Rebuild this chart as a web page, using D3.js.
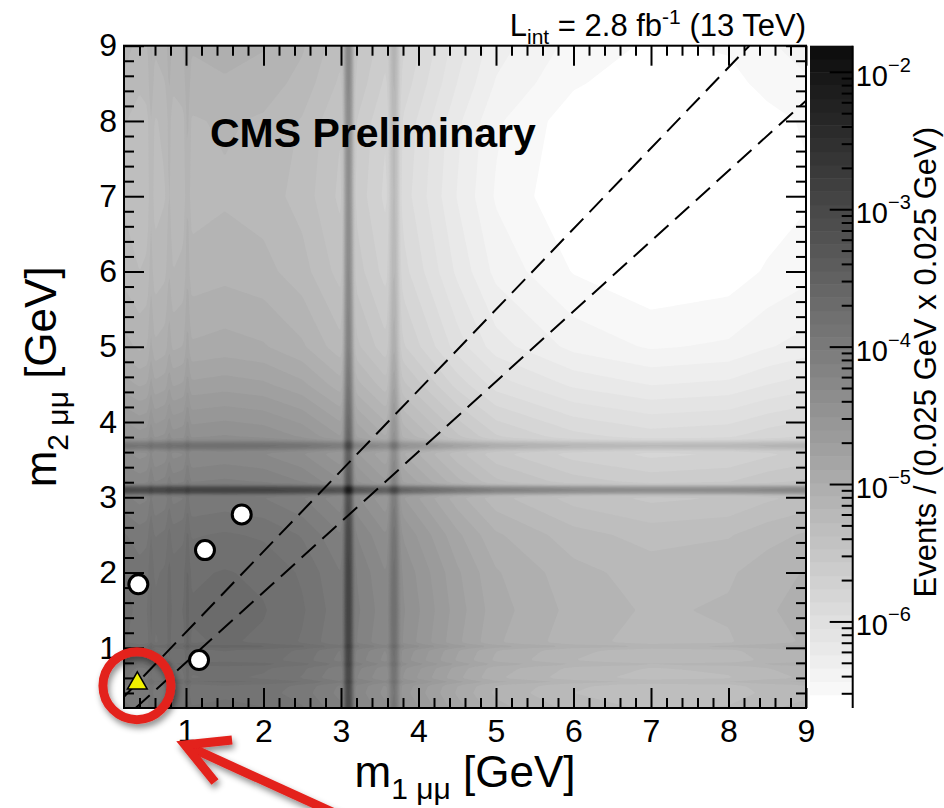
<!DOCTYPE html>
<html>
<head>
<meta charset="utf-8">
<script src="https://cdn.jsdelivr.net/npm/d3@7"></script>
<style>
  body { margin: 0; background: #fff; }
  svg { display: block; }
  text { font-family: "Liberation Sans", Arial, Helvetica, sans-serif; fill: #000; }
</style>
</head>
<body>
<div id="chart"></div>
<script>
// ---- data ----
// continuum shape of one dimuon mass (log10, relative), same for m1 and m2
var massKnots = [0.2, 0.4, 0.6, 0.8, 1.0, 1.5, 2.0, 2.5, 3.0, 3.5, 4.0, 4.5, 5.0, 6.0, 7.0, 8.0, 8.5, 9.0]
var logShape  = [-0.1, -0.16, -0.12, -0.07, -0.03, 0, -0.03, -0.12, -0.3, -0.55, -0.8, -1.05, -1.25, -1.42, -1.5, -1.47, -1.4, -1.35]
var logNorm = -3.7

// narrow resonances: eta, omega, phi, J/psi, psi(2S)
var resMass     = [0.548, 0.782, 1.019, 3.097, 3.686]
var resWidth    = [0.02, 0.02, 0.02, 0.028, 0.035]
var resStrength = [0.3, 0.25, 0.35, 14, 2.8]

// z range of the palette (log10 events)
var zMin = -6.63
var zMax = -1.81
var nLevels = 50

// observed events (white) and the candidate (yellow triangle)
var eventM1 = [0.385, 1.245, 1.719, 1.168]
var eventM2 = [1.843, 2.298, 2.772, 0.837]
var candM1 = [0.372]
var candM2 = [0.528]

// signal window edges (dashed)
var windowUpper = [[0.2, 0.35], [8.27, 9.0]]
var windowLower = [[0.35, 0.2], [9.0, 8.27]]

var xTicks = [1, 2, 3, 4, 5, 6, 7, 8, 9]
var yTicks = [1, 2, 3, 4, 5, 6, 7, 8, 9]
var zExponents = [-6, -5, -4, -3, -2]

// red annotation (circle around candidate, arrow to it)
var ringCenter = [0.367, 0.497]
var arrowTip = [0.987, -0.291]
var arrowTail = [3.394, -1.42]
var arrowArms = [[1.594, -0.225], [1.374, -0.783]]

// ---- layout ----
var width = 944, height = 808
var x = d3.scaleLinear().domain([0.2, 9]).range([124, 806])
var y = d3.scaleLinear().domain([0.2, 9]).range([708, 45.7])
var zScale = d3.scaleLinear().domain([zMin, zMax]).range([708, 45.7])
var cbLeft = 810, cbRight = 852.7

var svg = d3.select("#chart").append("svg")
    .attr("width", width)
    .attr("height", height)

var defs = svg.append("defs")
defs.append("clipPath").attr("id", "plotclip")
  .append("rect")
    .attr("x", x(0.2)).attr("y", y(9))
    .attr("width", x(9) - x(0.2)).attr("height", y(0.2) - y(9))
var shadow = defs.append("filter").attr("id", "shadow")
    .attr("x", "-20%").attr("y", "-20%").attr("width", "140%").attr("height", "140%")
shadow.append("feDropShadow")
    .attr("dx", 2).attr("dy", 4).attr("stdDeviation", 3)
    .attr("flood-color", "#000").attr("flood-opacity", 0.45)

// ---- density grid ----
var step = 0.02
var n = Math.round((9 - 0.2) / step)
var shape = d3.scaleLinear().domain(massKnots).range(logShape)

function profile(m) {
    var peaks = d3.sum(resMass, function(r, i) {
        return resStrength[i] * Math.exp(-0.5 * Math.pow((m - r) / resWidth[i], 2))
    })
    return shape(m) + Math.log10(1 + peaks)
}
var prof = d3.range(n).map(function(i) { return profile(0.2 + (i + 0.5) * step) })
var values = new Array(n * n)
for (var j = 0; j < n; j++) {
    for (var i = 0; i < n; i++) {
        values[j * n + i] = logNorm + prof[i] + prof[j]
    }
}

var levels = d3.range(nLevels + 1).map(function(k) { return zMin + k * (zMax - zMin) / nLevels })
var gray = d3.scaleLinear().domain([1, nLevels - 1]).range([248, 14])
function levelColor(k) {
    var g = Math.round(gray(k))
    return d3.rgb(g, g, g)
}

var contours = d3.contours()
    .size([n, n])
    .thresholds(levels.slice(1, nLevels))(values)

var proj = d3.geoTransform({
    point: function(u, v) { this.stream.point(x(0.2 + u * step), y(0.2 + v * step)) }
})
var path = d3.geoPath(proj)

svg.append("g")
    .attr("clip-path", "url(#plotclip)")
  .selectAll("path")
  .data(contours)
  .enter().append("path")
    .attr("d", path)
    .attr("fill", function(d, i) { return levelColor(i + 1) })

// ---- dashed window lines ----
var line = d3.line().x(function(d) { return x(d[0]) }).y(function(d) { return y(d[1]) })
svg.append("g")
    .attr("clip-path", "url(#plotclip)")
  .selectAll("path")
  .data([windowUpper, windowLower])
  .enter().append("path")
    .attr("d", line)
    .attr("fill", "none")
    .attr("stroke", "#000")
    .attr("stroke-width", 2)
    .attr("stroke-dasharray", "19,9")

// ---- axes with inner ticks on all four sides ----
var minor = d3.range(2, 45).filter(function(i) { return i % 5 != 0 }).map(function(i) { return i * 0.2 })

function tickStyle(g) {
    g.select(".domain").remove()
    g.selectAll("line").attr("stroke", "#000").attr("stroke-width", 2)
    g.selectAll("text").attr("font-size", 32).attr("font-family", "Liberation Sans, Arial, sans-serif").attr("fill", "#000")
}

svg.append("g").attr("transform", "translate(0," + y(0.2) + ")")
    .call(d3.axisBottom(x).tickValues(xTicks).tickSize(-20).tickPadding(11).tickSizeOuter(0)).call(tickStyle)
svg.append("g").attr("transform", "translate(0," + y(0.2) + ")")
    .call(d3.axisBottom(x).tickValues(minor).tickSize(-10).tickFormat("").tickSizeOuter(0)).call(tickStyle)
svg.append("g").attr("transform", "translate(0," + y(9) + ")")
    .call(d3.axisTop(x).tickValues(xTicks).tickSize(-20).tickFormat("").tickSizeOuter(0)).call(tickStyle)
svg.append("g").attr("transform", "translate(0," + y(9) + ")")
    .call(d3.axisTop(x).tickValues(minor).tickSize(-10).tickFormat("").tickSizeOuter(0)).call(tickStyle)

svg.append("g").attr("transform", "translate(" + x(0.2) + ",0)")
    .call(d3.axisLeft(y).tickValues(yTicks).tickSize(-20).tickPadding(7).tickSizeOuter(0)).call(tickStyle)
svg.append("g").attr("transform", "translate(" + x(0.2) + ",0)")
    .call(d3.axisLeft(y).tickValues(minor).tickSize(-10).tickFormat("").tickSizeOuter(0)).call(tickStyle)
svg.append("g").attr("transform", "translate(" + x(9) + ",0)")
    .call(d3.axisRight(y).tickValues(yTicks).tickSize(-20).tickFormat("").tickSizeOuter(0)).call(tickStyle)
svg.append("g").attr("transform", "translate(" + x(9) + ",0)")
    .call(d3.axisRight(y).tickValues(minor).tickSize(-10).tickFormat("").tickSizeOuter(0)).call(tickStyle)

// frame
svg.append("rect")
    .attr("x", x(0.2)).attr("y", y(9))
    .attr("width", x(9) - x(0.2)).attr("height", y(0.2) - y(9))
    .attr("fill", "none").attr("stroke", "#000").attr("stroke-width", 2)

// ---- markers ----
svg.append("g").selectAll("circle")
    .data(eventM1)
  .enter().append("circle")
    .attr("cx", function(d) { return x(d) })
    .attr("cy", function(d, i) { return y(eventM2[i]) })
    .attr("r", 9.5)
    .attr("fill", "#fff")
    .attr("stroke", "#000")
    .attr("stroke-width", 3)

svg.append("g").selectAll("path")
    .data(candM1)
  .enter().append("path")
    .attr("d", d3.symbol().type(d3.symbolTriangle).size(170))
    .attr("transform", function(d, i) { return "translate(" + x(d) + "," + y(candM2[i]) + ")" })
    .attr("fill", "#f2f200")
    .attr("stroke", "#000")
    .attr("stroke-width", 1.5)

// ---- colour bar ----
var cb = svg.append("g")
cb.selectAll("rect")
    .data(d3.range(1, nLevels))
  .enter().append("rect")
    .attr("x", cbLeft)
    .attr("width", cbRight - cbLeft)
    .attr("y", function(k) { return zScale(levels[k + 1]) })
    .attr("height", function(k) { return zScale(levels[k]) - zScale(levels[k + 1]) + 0.5 })
    .attr("fill", function(k) { return levelColor(k) })

var zLog = d3.scaleLog().domain([Math.pow(10, zMin), Math.pow(10, zMax)]).range([708, 45.7])
var zMajor = zExponents.map(function(e) { return Math.pow(10, e) })
var zMinor = []
d3.range(-7, -1).forEach(function(e) {
    d3.range(2, 10).forEach(function(m) {
        var v = m * Math.pow(10, e)
        if (v > zLog.domain()[0] && v < zLog.domain()[1]) zMinor.push(v)
    })
})
cb.append("g").attr("transform", "translate(" + cbRight + ",0)")
    .call(d3.axisRight(zLog).tickValues(zMajor).tickSize(-23).tickFormat("").tickSizeOuter(0)).call(tickStyle)
cb.append("g").attr("transform", "translate(" + cbRight + ",0)")
    .call(d3.axisRight(zLog).tickValues(zMinor).tickSize(-11).tickFormat("").tickSizeOuter(0)).call(tickStyle)
cb.append("line")
    .attr("x1", cbRight).attr("x2", cbRight)
    .attr("y1", zLog.range()[1]).attr("y2", zLog.range()[0])
    .attr("stroke", "#000").attr("stroke-width", 2)

var zLab = cb.selectAll(".zlab")
    .data(zExponents)
  .enter().append("text")
    .attr("class", "zlab")
    .attr("x", cbRight + 3)
    .attr("y", function(e) { return zLog(Math.pow(10, e)) + 14 })
    .attr("font-size", 29)
zLab.append("tspan").text("10")
zLab.append("tspan")
    .attr("dy", -14)
    .attr("font-size", 20)
    .text(function(e) { return "\u2212" + (-e) })

svg.append("text")
    .attr("transform", "translate(936,127) rotate(-90)")
    .attr("text-anchor", "end")
    .attr("font-size", 31)
    .text("Events / (0.025 GeV x 0.025 GeV)")

// ---- titles ----
var xt = svg.append("text")
    .attr("x", (x(0.2) + x(9)) / 2)
    .attr("y", 787)
    .attr("text-anchor", "middle")
    .attr("font-size", 44)
xt.append("tspan").text("m")
xt.append("tspan").attr("dy", 12).attr("font-size", 30).text("1 \u03bc\u03bc")
xt.append("tspan").attr("dy", -12).text(" [GeV]")

var yt = svg.append("text")
    .attr("transform", "translate(56," + (y(0.2) + y(9)) / 2 + ") rotate(-90)")
    .attr("text-anchor", "middle")
    .attr("font-size", 44)
yt.append("tspan").text("m")
yt.append("tspan").attr("dy", 12).attr("font-size", 30).text("2 \u03bc\u03bc")
yt.append("tspan").attr("dy", -12).text(" [GeV]")

var lumi = svg.append("text")
    .attr("x", x(9))
    .attr("y", 36)
    .attr("text-anchor", "end")
    .attr("font-size", 31)
lumi.append("tspan").text("L")
lumi.append("tspan").attr("dy", 8).attr("font-size", 21).text("int")
lumi.append("tspan").attr("dy", -8).text(" = 2.8 fb")
lumi.append("tspan").attr("dy", -12).attr("font-size", 21).text("-1")
lumi.append("tspan").attr("dy", 12).text(" (13 TeV)")

svg.append("text")
    .attr("x", 210)
    .attr("y", 147)
    .attr("font-size", 41)
    .attr("font-weight", "bold")
    .text("CMS Preliminary")

// ---- red annotation ----
var note = svg.append("g").attr("filter", "url(#shadow)")
note.append("circle")
    .attr("cx", x(ringCenter[0]))
    .attr("cy", y(ringCenter[1]))
    .attr("r", 34)
    .attr("fill", "none")
    .attr("stroke", "#e3201b")
    .attr("stroke-width", 9)
note.selectAll("path")
    .data([[arrowTail, arrowTip], [arrowArms[0], arrowTip, arrowArms[1]]])
  .enter().append("path")
    .attr("d", line)
    .attr("fill", "none")
    .attr("stroke", "#e3201b")
    .attr("stroke-width", 9)
    .attr("stroke-linejoin", "miter")
</script>
</body>
</html>
